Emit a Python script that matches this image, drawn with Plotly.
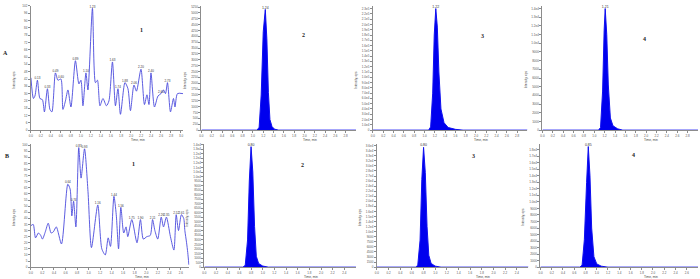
import plotly.graph_objects as go

# ---------------- data ----------------
# Panel A1 (noisy chromatogram)
a1_time = [0.00, 0.05, 0.08, 0.13, 0.18, 0.23, 0.27, 0.33, 0.38, 0.42, 0.49, 0.54, 0.60, 0.64, 0.69,
           0.74, 0.80, 0.89, 0.96, 1.00, 1.04, 1.10, 1.14, 1.23, 1.29, 1.33, 1.38, 1.44, 1.51, 1.56,
           1.63, 1.69, 1.74, 1.79, 1.88, 1.94, 1.99, 2.06, 2.11, 2.20, 2.27, 2.32, 2.36, 2.40, 2.47,
           2.54, 2.60, 2.65, 2.69, 2.73, 2.79, 2.85, 2.88, 2.93, 3.04]
a1_int = [43, 26, 28, 41, 26, 25, 15, 34, 17, 15, 47, 41, 42, 17, 24,
          33, 19, 57, 38, 41, 20, 47, 33, 100, 39, 41, 20, 26, 20, 24,
          56, 20, 34, 13, 39, 34, 16, 37, 32, 50, 21, 29, 21, 47, 19,
          28, 30, 33, 30, 39, 15, 26, 19, 30, 30]
a1_lab_t = [0.13, 0.33, 0.49, 0.60, 0.89, 1.10, 1.23, 1.63, 1.74, 1.88, 2.06, 2.20, 2.40, 2.60, 2.73]
a1_lab_y = [41, 34, 47, 42, 57, 47, 100, 56, 34, 39, 37, 50, 47, 30, 39]

# Panel B1 (noisy chromatogram)
b1_time = [0.00, 0.04, 0.08, 0.13, 0.17, 0.20, 0.25, 0.30, 0.35, 0.39, 0.44, 0.53, 0.64, 0.68, 0.71,
           0.74, 0.78, 0.83, 0.87, 0.93, 0.99, 1.05, 1.16, 1.23, 1.29, 1.34, 1.38, 1.44, 1.48, 1.52,
           1.56, 1.61, 1.65, 1.68, 1.75, 1.84, 1.90, 1.95, 2.01, 2.07, 2.11, 2.15, 2.20, 2.26, 2.30,
           2.35, 2.42, 2.48, 2.52, 2.56, 2.61, 2.65, 2.67, 2.70, 2.72, 2.74]
b1_int = [34, 35, 24, 28, 26, 23, 29, 36, 28, 29, 33, 19, 68, 64, 42,
          54, 33, 98, 73, 97, 62, 16, 51, 15, 10, 24, 17, 58, 43, 15,
          49, 28, 33, 25, 39, 20, 39, 23, 25, 26, 39, 30, 23, 41, 33,
          41, 25, 14, 43, 30, 43, 40, 30, 20, 12, 2]
b1_lab_t = [0.64, 0.74, 0.83, 0.93, 1.16, 1.44, 1.56, 1.75, 1.90, 2.11, 2.26, 2.35, 2.52, 2.61]
b1_lab_y = [68, 54, 98, 97, 51, 58, 49, 39, 39, 39, 41, 41, 43, 43]

# Sharp peaks, row A
a2_time = [0.00, 1.08, 1.12, 1.16, 1.20, 1.24, 1.27, 1.30, 1.33, 1.37, 1.42, 1.50, 3.00]
a2_int = [0, 0, 120, 1500, 4200, 5150, 3900, 1600, 450, 150, 40, 0, 0]
a3_time = [0.00, 1.08, 1.12, 1.16, 1.19, 1.22, 1.25, 1.28, 1.32, 1.38, 1.46, 1.60, 1.75, 3.00]
a3_int = [0, 0, 6000, 70000, 180000, 230000, 195000, 110000, 40000, 14000, 5000, 1500, 0, 0]
a4_time = [0.00, 1.08, 1.12, 1.16, 1.19, 1.21, 1.24, 1.27, 1.31, 1.36, 1.45, 1.55, 3.00]
a4_int = [0, 0, 300, 4500, 11500, 14000, 11000, 5200, 1400, 500, 150, 0, 0]

# Sharp peaks, row B
b2_time = [0.00, 0.66, 0.70, 0.74, 0.77, 0.80, 0.83, 0.86, 0.89, 0.93, 1.00, 1.10, 2.60]
b2_int = [0, 0, 200, 3000, 9500, 13300, 10500, 4500, 1200, 400, 120, 0, 0]
b3_time = [0.00, 0.66, 0.70, 0.74, 0.77, 0.80, 0.83, 0.86, 0.89, 0.93, 1.00, 1.10, 2.60]
b3_int = [0, 0, 500, 8000, 26000, 35500, 28000, 12000, 3500, 1100, 300, 0, 0]
b4_time = [0.00, 0.70, 0.74, 0.78, 0.82, 0.85, 0.88, 0.91, 0.95, 1.00, 1.08, 1.20, 2.80]
b4_int = [0, 0, 300, 4200, 13000, 18500, 14000, 6000, 1600, 500, 150, 0, 0]

peak_labels = {"a2": "1.24", "a3": "1.22", "a4": "1.21", "b2": "0.80", "b3": "0.80", "b4": "0.85"}

# ---------------- layout helpers ----------------
W, H = 700, 279
def px(x):
    return x / W
def py(y):
    return 1 - y / H

panels = [
    ("a1", (29, 182), 4, 130, [0, 3.05], [0, 102], 6),
    ("a2", (200, 355), 4, 130, [0, 3.0], [0, 5300], 250),
    ("a3", (372, 527), 4, 130, [0, 3.0], [0, 235000], 10000),
    ("a4", (542, 698), 4, 130, [0, 3.0], [0, 14300], 1000),
    ("b1", (29, 188), 144, 269, [0, 2.75], [0, 101], 5),
    ("b2", (203, 355), 144, 269, [0, 2.6], [0, 13600], 500),
    ("b3", (376, 528), 144, 269, [0, 2.6], [0, 36500], 1500),
    ("b4", (540, 698), 144, 269, [0, 2.8], [0, 18900], 1000),
]

data = {
    "a1": (a1_time, a1_int), "b1": (b1_time, b1_int),
    "a2": (a2_time, a2_int), "a3": (a3_time, a3_int), "a4": (a4_time, a4_int),
    "b2": (b2_time, b2_int), "b3": (b3_time, b3_int), "b4": (b4_time, b4_int),
}

def fmt_tick(v, step):
    if step < 50:
        return f"{v:.0f}"
    if v >= 10000:
        m, e = f"{v:.1e}".split("e")
        return f"{m}e{int(e)}"
    return f"{v:.0f}"

fig = go.Figure()
layout = {}
axis_col = "#8c8c8c"
FONT = "Liberation Sans, Arial"
tick_font = dict(family=FONT, size=3, color="#555555")
annotations = []

for i, (key, (x0, x1), yt, yb, xr, yr, ystep) in enumerate(panels, start=1):
    xa = "xaxis" if i == 1 else f"xaxis{i}"
    ya = "yaxis" if i == 1 else f"yaxis{i}"
    xref = "x" if i == 1 else f"x{i}"
    yref = "y" if i == 1 else f"y{i}"
    t, v = data[key]
    if key in ("a1", "b1"):
        fig.add_trace(go.Scatter(x=t, y=v, mode="lines",
                                 line=dict(color="#4a4adc", width=0.9, shape="spline", smoothing=0.7),
                                 xaxis=xref, yaxis=yref, hoverinfo="skip"))
        lt, ly = (a1_lab_t, a1_lab_y) if key == "a1" else (b1_lab_t, b1_lab_y)
        fig.add_trace(go.Scatter(x=lt, y=ly, mode="text", text=[f"{q:.2f}" for q in lt], textposition="top center",
                                 textfont=dict(family=FONT, size=3, color="#333333"),
                                 xaxis=xref, yaxis=yref, hoverinfo="skip", cliponaxis=False))
    else:
        fig.add_trace(go.Scatter(x=t, y=v, mode="lines", fill="tozeroy", fillcolor="#0000ee",
                                 line=dict(color="#1010f0", width=1), xaxis=xref, yaxis=yref, hoverinfo="skip"))
        top_i = v.index(max(v))
        fig.add_trace(go.Scatter(x=[t[top_i]], y=[v[top_i]], mode="text", text=[peak_labels[key]],
                                 textposition="top center",
                                 textfont=dict(family=FONT, size=3.5, color="#333333"),
                                 xaxis=xref, yaxis=yref, hoverinfo="skip", cliponaxis=False))
    xticks = []
    k = 0
    while k * 0.2 <= xr[1] - 0.05:
        xticks.append(round(k * 0.2, 1))
        k += 1
    yticks = []
    k = 0
    while k * ystep <= yr[1]:
        yticks.append(k * ystep)
        k += 1
    layout[xa] = dict(domain=[px(x0), px(x1)], range=xr, anchor=yref, showline=True, linecolor=axis_col, linewidth=1,
                      ticks="outside", ticklen=2, tickcolor=axis_col, tickvals=xticks,
                      ticktext=[f"{q:.1f}" for q in xticks], tickfont=tick_font, showgrid=False, zeroline=False,
                      ticklabelstandoff=0)
    layout[ya] = dict(domain=[py(yb), py(yt)], range=yr, anchor=xref, showline=True, linecolor=axis_col, linewidth=1,
                      ticks="outside", ticklen=2, tickcolor=axis_col, tickvals=yticks,
                      ticktext=[fmt_tick(q, ystep) for q in yticks], tickfont=tick_font, showgrid=False,
                      zeroline=False, ticklabelstandoff=0)
    annotations.append(dict(text="Time, min", x=px(x0 + (x1 - x0) * 0.7), y=py(yb + 6.2), xref="paper", yref="paper",
                            xanchor="center", yanchor="top", showarrow=False,
                            font=dict(family=FONT, size=3.2, color="#444444")))
    annotations.append(dict(text="Intensity, cps", x=px(x0 - 17), y=py((yt + yb) / 2 + 12), xref="paper",
                            yref="paper", textangle=-90, showarrow=False, xanchor="center", yanchor="middle",
                            font=dict(family=FONT, size=3.0, color="#444444")))

labels = [("A", 4, 52), ("B", 5, 156), ("1", 140, 28), ("2", 302, 33), ("3", 482, 34), ("4", 644, 38),
          ("1", 132, 164), ("2", 301, 165), ("3", 473, 156), ("4", 633, 155)]
for txt, lx, ly in labels:
    annotations.append(dict(text=f"<b>{txt}</b>", x=px(lx), y=py(ly), xref="paper", yref="paper", showarrow=False,
                            xanchor="center", yanchor="middle",
                            font=dict(family="Liberation Serif, Times New Roman", size=6, color="#222222")))

fig.update_layout(width=W, height=H, margin=dict(l=0, r=0, t=0, b=0), paper_bgcolor="white",
                  plot_bgcolor="white", showlegend=False, annotations=annotations, **layout)

fig.write_html("out.html", config={"displayModeBar": False},
               post_script="document.body.style.margin='0';document.body.style.padding='0';")
